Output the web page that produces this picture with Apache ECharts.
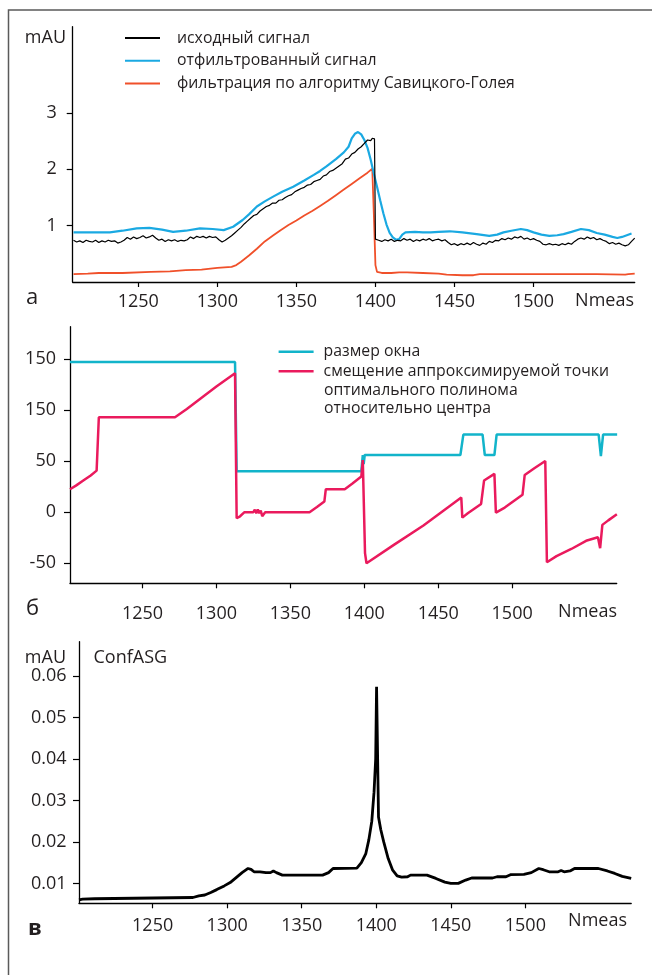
<!DOCTYPE html>
<html>
<head>
<meta charset="utf-8">
<script src="https://cdn.jsdelivr.net/npm/echarts@6/dist/echarts.min.js"></script>
<style>
  html, body { margin: 0; padding: 0; background: #fff; }
  #chart { width: 652px; height: 975px; }
</style>
</head>
<body>
<div id="chart"></div>
<script>
// x ticks (Nmeas)
const nmeasTicks = [1250, 1300, 1350, 1400, 1450, 1500]

// panel а: исходный / отфильтрованный / Савицкого-Голея
const rawSignal = [
  [1209, 0.74], [1211, 0.71], [1213, 0.73], [1215, 0.70], [1217, 0.74], [1219, 0.72], [1221, 0.71], [1223, 0.74],
  [1225, 0.70], [1227, 0.73], [1229, 0.71], [1231, 0.74], [1233, 0.72], [1235, 0.73], [1237, 0.69], [1239, 0.71],
  [1241, 0.74], [1243, 0.79], [1245, 0.76], [1247, 0.80], [1249, 0.77], [1251, 0.79], [1253, 0.82], [1255, 0.78],
  [1257, 0.80], [1259, 0.83], [1261, 0.78], [1263, 0.74], [1265, 0.76], [1267, 0.72], [1269, 0.75], [1271, 0.73],
  [1273, 0.75], [1275, 0.72], [1277, 0.74], [1279, 0.73], [1281, 0.75], [1283, 0.80], [1285, 0.77], [1287, 0.81],
  [1289, 0.79], [1291, 0.81], [1293, 0.78], [1295, 0.81], [1297, 0.79], [1299, 0.80], [1301, 0.75], [1303, 0.71],
  [1305, 0.74], [1307, 0.78], [1309, 0.82], [1311, 0.87], [1313, 0.92], [1315, 0.97], [1317, 1.03], [1319, 1.08],
  [1321, 1.13], [1323, 1.18], [1325, 1.20], [1327, 1.26], [1329, 1.30], [1331, 1.34], [1333, 1.36], [1335, 1.40],
  [1337, 1.40], [1339, 1.45], [1341, 1.46], [1343, 1.50], [1345, 1.53], [1347, 1.55], [1349, 1.60], [1351, 1.63],
  [1353, 1.66], [1355, 1.68], [1357, 1.72], [1359, 1.73], [1361, 1.78], [1363, 1.80], [1365, 1.82], [1367, 1.88],
  [1369, 1.90], [1371, 1.96], [1373, 1.98], [1375, 2.02], [1377, 2.06], [1379, 2.10], [1381, 2.18], [1383, 2.20],
  [1385, 2.27], [1387, 2.30], [1389, 2.36], [1391, 2.40], [1393, 2.46], [1395, 2.52], [1396, 2.55], [1397, 2.51],
  [1398, 2.55], [1399.4, 2.54], [1400, 0.76], [1402, 0.74], [1404, 0.72], [1406, 0.75], [1408, 0.73], [1410, 0.76],
  [1412, 0.72], [1414, 0.74], [1416, 0.73], [1418, 0.77], [1420, 0.74], [1422, 0.76], [1424, 0.72], [1426, 0.75],
  [1428, 0.73], [1430, 0.76], [1432, 0.74], [1434, 0.77], [1436, 0.73], [1438, 0.75], [1440, 0.76], [1442, 0.73],
  [1444, 0.75], [1446, 0.70], [1448, 0.66], [1450, 0.68], [1452, 0.65], [1454, 0.68], [1456, 0.66], [1458, 0.69],
  [1460, 0.66], [1462, 0.70], [1464, 0.67], [1466, 0.65], [1468, 0.69], [1470, 0.67], [1472, 0.72], [1474, 0.70],
  [1476, 0.74], [1478, 0.73], [1480, 0.77], [1482, 0.75], [1484, 0.78], [1486, 0.76], [1488, 0.80], [1490, 0.78],
  [1492, 0.81], [1494, 0.76], [1496, 0.78], [1498, 0.75], [1500, 0.77], [1502, 0.74], [1504, 0.72], [1506, 0.67],
  [1508, 0.66], [1510, 0.68], [1512, 0.66], [1514, 0.67], [1516, 0.65], [1518, 0.68], [1520, 0.66], [1522, 0.69],
  [1524, 0.67], [1526, 0.72], [1528, 0.76], [1530, 0.78], [1532, 0.76], [1534, 0.80], [1536, 0.77], [1538, 0.79],
  [1540, 0.75], [1542, 0.77], [1544, 0.74], [1546, 0.72], [1548, 0.68], [1550, 0.70], [1552, 0.67], [1554, 0.69],
  [1556, 0.66], [1558, 0.64], [1560, 0.66], [1562, 0.72], [1564, 0.78]
]
const filteredSignal = [
  [1209, 0.88], [1220, 0.88], [1232, 0.88], [1240, 0.91], [1249, 0.95], [1257, 0.96], [1265, 0.93], [1272, 0.89],
  [1280, 0.91], [1289, 0.95], [1297, 0.94], [1304, 0.92], [1310, 0.98], [1316, 1.10], [1320, 1.20], [1325, 1.34],
  [1330, 1.43], [1335, 1.51], [1341, 1.60], [1348, 1.69], [1355, 1.80], [1361, 1.90], [1365, 1.97], [1369, 2.05],
  [1375, 2.18], [1380, 2.30], [1383, 2.40], [1385, 2.55], [1387, 2.63], [1389, 2.66], [1391, 2.62], [1393, 2.52],
  [1395, 2.38], [1397, 2.17], [1399, 1.92], [1401, 1.69], [1403, 1.45], [1405, 1.22], [1407, 1.02], [1409, 0.87],
  [1411, 0.79], [1413, 0.75], [1415, 0.76], [1417, 0.84], [1419, 0.88], [1425, 0.89], [1430, 0.88], [1435, 0.88],
  [1440, 0.89], [1447, 0.90], [1455, 0.88], [1464, 0.85], [1472, 0.82], [1477, 0.84], [1481, 0.88], [1486, 0.91],
  [1492, 0.94], [1496, 0.92], [1500, 0.88], [1505, 0.84], [1510, 0.82], [1515, 0.83], [1519, 0.85], [1524, 0.89],
  [1530, 0.94], [1535, 0.92], [1540, 0.87], [1545, 0.84], [1550, 0.80], [1553, 0.78], [1556, 0.80], [1559, 0.83],
  [1562, 0.86]
]
const sgSignal = [
  [1209, 0.14], [1218, 0.15], [1225, 0.16], [1240, 0.16], [1258, 0.18], [1270, 0.19], [1280, 0.21], [1290, 0.22],
  [1300, 0.25], [1309, 0.27], [1312, 0.30], [1315, 0.36], [1320, 0.47], [1325, 0.59], [1330, 0.72], [1335, 0.82],
  [1340, 0.92], [1345, 1.01], [1350, 1.09], [1355, 1.18], [1360, 1.26], [1365, 1.35], [1370, 1.44], [1375, 1.54],
  [1380, 1.64], [1385, 1.74], [1390, 1.84], [1395, 1.94], [1398, 2.01], [1399, 1.20], [1400, 0.30], [1401, 0.18],
  [1404, 0.16], [1410, 0.16], [1415, 0.17], [1420, 0.17], [1430, 0.16], [1440, 0.15], [1445, 0.13], [1455, 0.12],
  [1462, 0.12], [1466, 0.14], [1480, 0.14], [1500, 0.14], [1520, 0.14], [1540, 0.14], [1558, 0.13], [1560, 0.14],
  [1564, 0.15]
]

// panel б
const windowSize = [
  [1201, 147], [1312.6, 147], [1313.7, 40], [1398, 40], [1399, 56], [1399.6, 47], [1400.3, 56], [1465, 56],
  [1467, 76], [1480, 76], [1481.5, 56], [1488, 56], [1489.5, 76], [1558.5, 76], [1560, 55], [1561.5, 76], [1571, 76]
]
const pointShift = [
  [1201, 22.5], [1205, 26], [1210, 31], [1215, 36], [1219, 40.7], [1220.5, 93], [1272, 93], [1280, 101],
  [1290, 112], [1300, 123], [1312.6, 136], [1313.7, -5.9], [1316, -4], [1319, 0], [1325, 0], [1326, 2.5],
  [1327, -1], [1328, 2.6], [1329, -1], [1330, 1.5], [1331, -4], [1333, 0], [1363, 0], [1368, 5], [1373, 10.4],
  [1374, 22.5], [1386.8, 22.5], [1392, 28], [1398, 34.9], [1399, 51], [1400.5, -40], [1401.5, -50], [1420, -32],
  [1440, -13], [1465.6, 14.3], [1466.3, -5.3], [1470, -1], [1479, 8.1], [1481, 31], [1488, 37.5], [1489, -0.4],
  [1495, 4.5], [1507, 17], [1508.5, 36.5], [1515, 43], [1522.4, 50.2], [1523.5, -49], [1530, -43], [1540, -36],
  [1550, -28], [1558, -24.5], [1559.5, -35.2], [1561, -12.4], [1565, -8], [1570.8, -2]
]

// panel в
const confASG = [
  [1200.6, 0.0060], [1203, 0.0062], [1211, 0.0063], [1212, 0.0066], [1277, 0.0066], [1281, 0.0070], [1285, 0.0072],
  [1289, 0.0078], [1293, 0.0085], [1298, 0.0094], [1302, 0.0102], [1306, 0.0114], [1310, 0.0126], [1314, 0.0136],
  [1316, 0.0134], [1318, 0.0128], [1322, 0.0128], [1326, 0.0126], [1329, 0.0126], [1331, 0.0130], [1333, 0.0126],
  [1337, 0.0120], [1364, 0.0120], [1368, 0.0126], [1371, 0.0136], [1387, 0.0137], [1390, 0.0150], [1393, 0.0172],
  [1395, 0.0205], [1397, 0.0250], [1398.5, 0.0320], [1399.6, 0.0400], [1400.2, 0.0574], [1400.8, 0.0574],
  [1401.5, 0.0260], [1403, 0.0230], [1405, 0.0200], [1408, 0.0160], [1411, 0.0132], [1414, 0.0118], [1417, 0.0115],
  [1421, 0.0116], [1423, 0.0120], [1434, 0.0120], [1440, 0.0112], [1446, 0.0103], [1450, 0.0100], [1455, 0.0100],
  [1460, 0.0108], [1464, 0.0113], [1478, 0.0113], [1481, 0.0116], [1487, 0.0116], [1490, 0.0121], [1499, 0.0122],
  [1504, 0.0126], [1509, 0.0136], [1512, 0.0133], [1516, 0.0128], [1522, 0.0128], [1524, 0.0131], [1526, 0.0128],
  [1530, 0.0130], [1533, 0.0136], [1549, 0.0136], [1555, 0.0130], [1560, 0.0124], [1565, 0.0117], [1571, 0.0112]
]

// y ticks
const yTicksA = [1, 2, 3]
const yTicksB = [-50, 0, 50, 100, 150]
const yTickLabelsB = ['-50', '0', '50', '150', '150'] // as printed in the source figure
const yTicksC = [0.01, 0.02, 0.03, 0.04, 0.05, 0.06]
const yTickLabelsC = ['0.01', '0.02', '0.03', '0.04', '0.05', '0.06']

const FONT = "'Open Sans', 'Noto Sans', sans-serif"
const TXT = '#231f20'
const LEGEND_SIZE = 15.8

function xAxisFor (grid, min, max, labelMargin) {
  return {
    type: 'value',
    gridIndex: grid,
    min: min,
    max: max,
    axisLine: { onZero: false, lineStyle: { color: '#000', width: 1.3 } },
    axisTick: { length: 5, customValues: nmeasTicks, lineStyle: { color: '#000', width: 1.2 } },
    axisLabel: {
      customValues: nmeasTicks,
      fontSize: 18,
      color: TXT,
      margin: labelMargin,
      formatter: function (v) { return String(v) }
    },
    splitLine: { show: false }
  }
}

function yAxisFor (grid, min, max, ticks, labels, margin) {
  return {
    type: 'value',
    gridIndex: grid,
    min: min,
    max: max,
    axisLine: { show: true, onZero: false, lineStyle: { color: '#000', width: 1.3 } },
    axisTick: { show: true, length: 6, customValues: ticks, lineStyle: { color: '#000', width: 1.2 } },
    axisLabel: {
      customValues: ticks,
      fontSize: 18,
      color: TXT,
      margin: margin,
      formatter: function (v) {
        const i = ticks.findIndex(function (t) { return Math.abs(t - v) < 1e-9 })
        return i >= 0 ? labels[i] : ''
      }
    },
    splitLine: { show: false }
  }
}

function lineSeries (name, data, x, y, color, width) {
  return {
    name: name,
    type: 'line',
    data: data,
    xAxisIndex: x,
    yAxisIndex: y,
    symbol: 'none',
    showSymbol: false,
    color: color,
    lineStyle: { color: color, width: width },
    animation: false
  }
}

function txt (x, y, text, size, extra) {
  return {
    type: 'text',
    x: x,
    y: y,
    style: Object.assign({ text: text, fontSize: size, fontFamily: FONT, fill: TXT, verticalAlign: 'middle' }, extra || {})
  }
}

const option = {
  animation: false,
  textStyle: { fontFamily: FONT },
  grid: [
    { left: 72.7, top: 26.7, width: 562, height: 255.3 },
    { left: 70, top: 326.7, width: 546.7, height: 256.6 },
    { left: 79, top: 641.7, width: 552.2, height: 261.6 }
  ],
  legend: [
    {
      orient: 'vertical',
      left: 125,
      top: 30,
      padding: 0,
      icon: 'rect',
      itemWidth: 35,
      itemHeight: 2,
      itemGap: 6.8,
      selectedMode: false,
      textStyle: { fontSize: LEGEND_SIZE, color: TXT, padding: [0, 0, 0, 12] },
      data: ['исходный сигнал', 'отфильтрованный сигнал', 'фильтрация по алгоритму Савицкого-Голея']
    },
    {
      orient: 'vertical',
      left: 278.6,
      top: 343.8,
      padding: 0,
      icon: 'rect',
      itemWidth: 35,
      itemHeight: 2.5,
      itemGap: 3.5,
      selectedMode: false,
      textStyle: { fontSize: LEGEND_SIZE, color: TXT, padding: [0, 0, 0, 5] },
      data: ['размер окна', 'смещение аппроксимируемой точки']
    }
  ],
  xAxis: [
    xAxisFor(0, 1208.5, 1564, 11),
    xAxisFor(1, 1201, 1570.7, 22),
    xAxisFor(2, 1200.6, 1571, 14)
  ],
  yAxis: [
    yAxisFor(0, 0, 4.53, yTicksA, yTicksA.map(String), 16),
    yAxisFor(1, -69.6, 181.6, yTicksB, yTickLabelsB, 14),
    yAxisFor(2, 0.0052, 0.0683, yTicksC, yTickLabelsC, 12.5)
  ],
  series: [
    lineSeries('фильтрация по алгоритму Савицкого-Голея', sgSignal, 0, 0, '#f0502a', 1.8),
    lineSeries('отфильтрованный сигнал', filteredSignal, 0, 0, '#1aa9e2', 2.2),
    lineSeries('исходный сигнал', rawSignal, 0, 0, '#000000', 1.2),
    lineSeries('размер окна', windowSize, 1, 1, '#12b4ca', 2.5),
    lineSeries('смещение аппроксимируемой точки', pointShift, 1, 1, '#ea1a5d', 2.5),
    lineSeries('ConfASG', confASG, 2, 2, '#000000', 2.8)
  ],
  graphic: [
    {
      type: 'rect',
      shape: { x: 8.5, y: 10, width: 700, height: 1000 },
      style: { fill: 'none', stroke: '#5a5a5a', lineWidth: 1.5 },
      silent: true
    },
    txt(66, 38, 'mAU', 18, { align: 'right' }),
    txt(26, 298, 'а', 22),
    txt(634, 300.5, 'Nmeas', 18, { align: 'right' }),
    txt(324, 390, 'оптимального полинома', LEGEND_SIZE),
    txt(324, 408.7, 'относительно центра', LEGEND_SIZE),
    txt(26, 609, 'б', 22),
    txt(617, 611.5, 'Nmeas', 18, { align: 'right' }),
    txt(66, 658, 'mAU', 18, { align: 'right' }),
    txt(93.5, 658, 'ConfASG', 18),
    txt(28, 929, 'в', 22, { fontWeight: 'bold' }),
    txt(627, 921, 'Nmeas', 18, { align: 'right' })
  ]
}

const chart = echarts.init(document.getElementById('chart'), null, { renderer: 'canvas' })
chart.setOption(option)
window.addEventListener('resize', function () { chart.resize() })
</script>
</body>
</html>
